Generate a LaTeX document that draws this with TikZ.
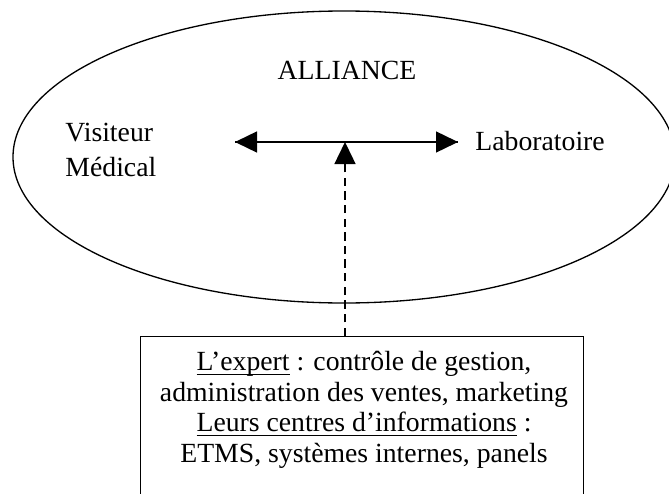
\documentclass[tikz,border=0pt]{standalone}
\usepackage{fontspec}
\setmainfont{Liberation Serif}
\usetikzlibrary{arrows.meta}
\newcommand\myul[1]{\setbox0\hbox{#1}\rlap{\rule[-1.7pt]{\wd0}{0.5pt}}\box0\relax}
\begin{document}
\begin{tikzpicture}[x=0.4545pt,y=-0.4545pt,
  txt/.style={inner sep=0pt, font=\fontsize{12.6}{13.85}\selectfont},
  line/.style={line width=0.6pt},
  bigarrow/.style={line width=0.8pt, -{Triangle[length=10pt,width=9.5pt]}},
  dashline/.style={line width=0.8pt, dash pattern=on 3.8pt off 2.4pt}]
\useasboundingbox (0,0) rectangle (669,493);
\clip (0,0) rectangle (669,493);
% ellipse
\draw[line] (344,157) ellipse [x radius=331, y radius=146];
\node[txt] (alliance) at (347,70) {ALLIANCE};
\node[txt, anchor=west, align=left] (visiteur) at (65,150) {Visiteur\\[2pt]Médical};
\node[txt, anchor=west] (labo) at (475,141) {Laboratoire};
% horizontal double arrow
\coordinate (la) at (235,142);
\coordinate (ra) at (458,142);
\coordinate (mid) at (345,142);
\draw[line width=0.8pt] (la) -- (ra);
\draw[bigarrow] (mid) -- (la);
\draw[bigarrow] (mid) -- (ra);
% box
\node[draw, line, minimum width=201.4pt, minimum height=80pt, anchor=north, inner sep=0pt] (box) at (362,336) {};
\node[txt, align=center] (boxtext) at (364,410)
  {\myul{L’expert} : contrôle de gestion,\\
   administration des ventes, marketing\\
   \myul{Leurs centres d’informations} :\\
   ETMS, systèmes internes, panels};
\coordinate (dashstart) at (345,336);
\draw[dashline, -{Triangle[length=10pt,width=9.5pt]}] (dashstart) -- (mid);
\end{tikzpicture}
\end{document}
